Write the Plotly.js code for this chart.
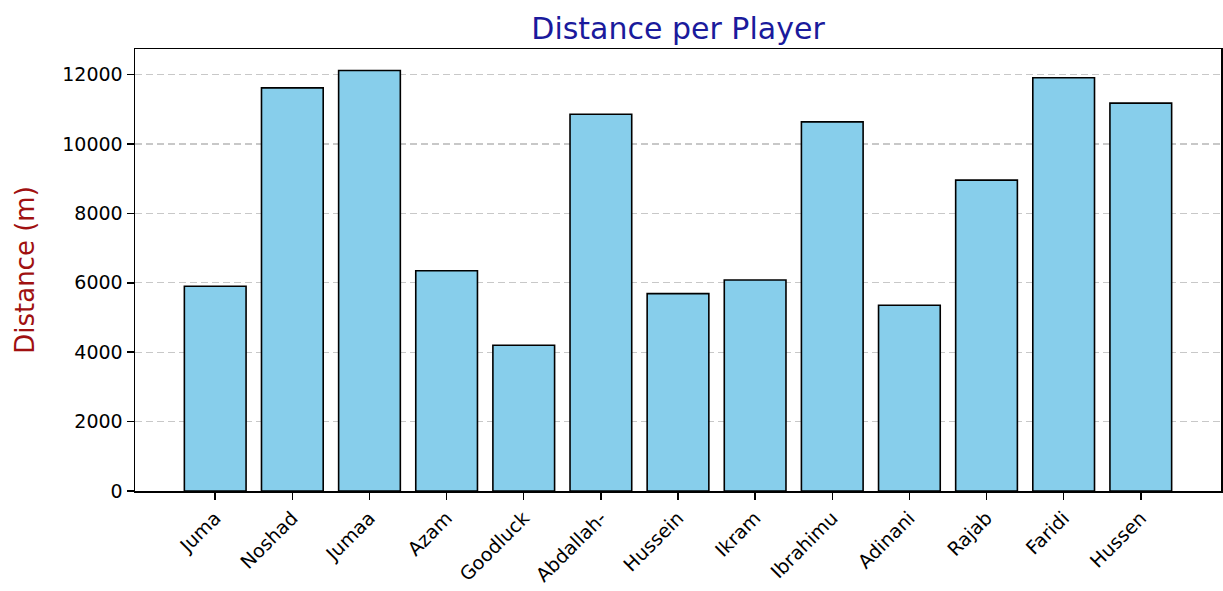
<!DOCTYPE html>
<html>
<head>
<meta charset="utf-8">
<script src="https://cdn.plot.ly/plotly-3.0.1.min.js"></script>
<style>html,body{margin:0;padding:0;background:#fff;}#chart{width:1223px;height:591px;}</style>
</head>
<body>
<div id="chart"></div>
<script>
const players = ["Juma","Noshad","Jumaa","Azam","Goodluck","Abdallah-","Hussein","Ikram","Ibrahimu","Adinani","Rajab","Faridi","Hussen"];
const distances = [5900, 11620, 12120, 6350, 4200, 10860, 5690, 6080, 10640, 5355, 8960, 11910, 11180];
const yTicks = [0, 2000, 4000, 6000, 8000, 10000, 12000];

const trace = {
  type: "bar",
  x: players.map((_, i) => i),
  y: distances,
  width: 0.8,
  marker: {color: "#87CEEB", line: {color: "#000000", width: 1.6}},
  hoverinfo: "x+y"
};

const layout = {
  width: 1223, height: 591,
  margin: {l: 135, r: 2, t: 49, b: 100, pad: 0},
  paper_bgcolor: "#ffffff", plot_bgcolor: "#ffffff",
  font: {family: "DejaVu Sans", size: 19, color: "#000000"},
  title: {text: "Distance per Player", font: {family: "DejaVu Sans", size: 30, color: "#1a1a9c"},
          xref: "paper", x: 0.5, xanchor: "center", yref: "paper", y: 1, yanchor: "bottom", pad: {b: 10}},
  showlegend: false,
  bargap: 0.2,
  xaxis: {
    range: [-1.04, 13.04],
    tickmode: "array",
    tickvals: players.map((_, i) => i),
    ticktext: players,
    tickangle: -45,
    ticks: "outside", ticklen: 7, tickwidth: 1.5, tickcolor: "#000",
    showline: true, linecolor: "#000", linewidth: 1.5, mirror: true,
    showgrid: false, zeroline: false,
    automargin: false,
    tickfont: {family: "DejaVu Sans", size: 19, color: "#000"}
  },
  yaxis: {
    range: [0, 12740],
    tickmode: "array",
    tickvals: yTicks,
    ticktext: yTicks.map(String),
    ticks: "outside", ticklen: 7, tickwidth: 1.5, tickcolor: "#000",
    showline: true, linecolor: "#000", linewidth: 1.5, mirror: true,
    showgrid: true, gridcolor: "rgba(176,176,176,0.7)", griddash: "7px,4px", gridwidth: 1.2,
    zeroline: false,
    automargin: false,
    tickfont: {family: "DejaVu Sans", size: 19, color: "#000"},
    title: {text: "Distance (m)", font: {family: "DejaVu Sans", size: 26, color: "#a01010"}, standoff: 20}
  }
};

Plotly.newPlot("chart", [trace], layout, {displayModeBar: false, staticPlot: true});
</script>
</body>
</html>
